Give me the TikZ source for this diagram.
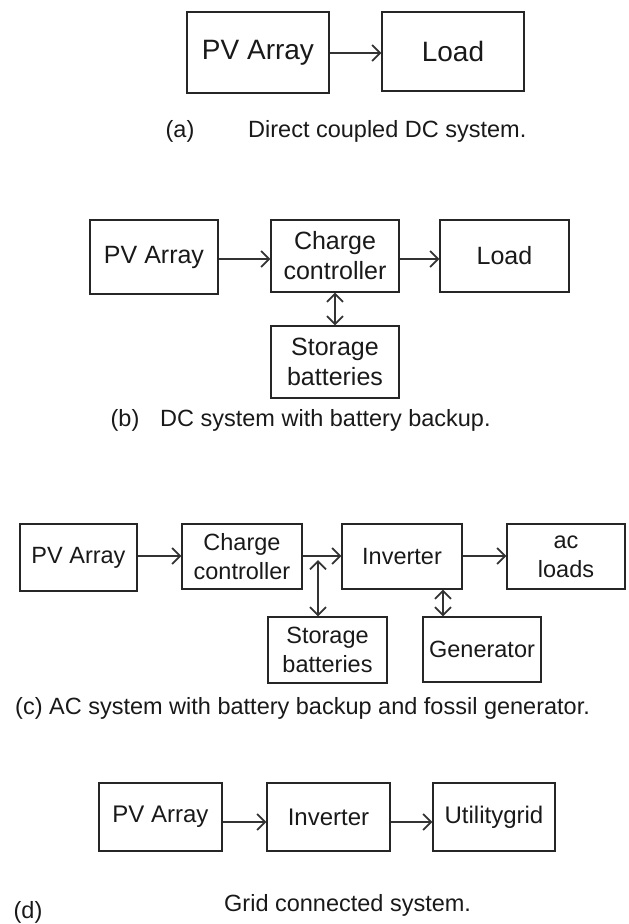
\documentclass[tikz,border=0pt]{standalone}
\usepackage{fontspec}
\setmainfont{Liberation Sans}
\usetikzlibrary{arrows.meta}
\tikzset{
  blk/.style={draw=black!85, line width=1.3pt, inner sep=0pt, align=center, text=black!90},
  fa/.style={font=\fontsize{28}{32}\selectfont},
  fb/.style={font=\fontsize{25}{30}\selectfont},
  fc/.style={font=\fontsize{23.5}{29}\selectfont},
  fd/.style={font=\fontsize{24}{29}\selectfont},
  capt/.style={inner sep=0pt, text=black!90, font=\fontsize{23.5}{28}\selectfont},
  tipk/.tip={Straight Barb[length=8pt,width=16pt,line width=1.8pt]},
  arr/.style={draw=black!80, line width=1.1pt, -tipk},
  darr/.style={draw=black!80, line width=1.3pt, tipk-tipk}
}
\begin{document}
\begin{tikzpicture}[x=1pt,y=-1pt]
\useasboundingbox (0,0) rectangle (629,924);
% (a)
\node[blk,fa,minimum width=142pt,minimum height=81pt] (pa) at (258,52.5) {PV Array};
\node[blk,fa,minimum width=142pt,minimum height=79pt] (la) at (453,51.5) {Load};
\draw[arr] (pa.east |- 0,53) coordinate (a1) -- (a1 -| la.west);
\node[capt] (cap1) at (180,131) {(a)};
\node[capt,anchor=west] (capa) at (248,131) {Direct coupled DC system.};
% (b)
\node[blk,fb,minimum width=128pt,minimum height=74pt] (pb) at (154,257) {PV Array};
\node[blk,fb,minimum width=128pt,minimum height=72pt] (cb) at (335,256) {Charge\\controller};
\node[blk,fb,minimum width=129pt,minimum height=72pt] (lb) at (504.5,256) {Load};
\node[blk,fb,minimum width=128pt,minimum height=72pt] (sb) at (335,362) {Storage\\batteries};
\draw[arr] (pb.east |- 0,259) coordinate (b1) -- (b1 -| cb.west);
\draw[arr] (cb.east |- 0,259) coordinate (b2) -- (b2 -| lb.west);
\draw[darr] (cb.south) -- (sb.north);
\node[capt] (cap2) at (125,420) {(b)};
\node[capt,anchor=west] (capb) at (160,420) {DC system with battery backup.};
% (c)
\node[blk,fc,minimum width=117pt,minimum height=67pt] (pc) at (78.5,557.5) {PV Array};
\node[blk,fc,minimum width=120pt,minimum height=65pt] (cc) at (242,556.5) {Charge\\controller};
\node[blk,fc,minimum width=120pt,minimum height=65pt] (ic) at (402,556.5) {Inverter};
\node[blk,fc,minimum width=118pt,minimum height=65pt] (ac) at (566,556.5) {ac\\loads};
\node[blk,fc,minimum width=119pt,minimum height=66pt] (sc) at (327.5,650) {Storage\\batteries};
\node[blk,fc,minimum width=118pt,minimum height=65pt] (gc) at (482,649.5) {Generator};
\draw[arr] (pc.east |- 0,556) coordinate (c1) -- (c1 -| cc.west);
\draw[arr] (cc.east |- 0,556) coordinate (c2) -- (c2 -| ic.west);
\draw[arr] (ic.east |- 0,556) coordinate (c3) -- (c3 -| ac.west);
\coordinate (cj) at (318,560);
\draw[darr] (cj) -- (cj |- sc.north);
\coordinate (gj) at (443,0);
\draw[darr] (gj |- ic.south) -- (gj |- gc.north);
\node[capt,anchor=west] (capc) at (15,708) {(c) AC system with battery backup and fossil generator.};
% (d)
\node[blk,fd,minimum width=123pt,minimum height=68pt] (pd) at (160.5,817) {PV Array};
\node[blk,fd,minimum width=123pt,minimum height=68pt] (id) at (328.5,817) {Inverter};
\node[blk,fd,minimum width=122pt,minimum height=68pt] (ud) at (494,817) {Utilitygrid};
\draw[arr] (pd.east |- 0,822) coordinate (d1) -- (d1 -| id.west);
\draw[arr] (id.east |- 0,822) coordinate (d2) -- (d2 -| ud.west);
\node[capt] (cap4) at (28,912) {(d)};
\node[capt,anchor=west] (capd) at (224,905) {Grid connected system.};
\end{tikzpicture}
\end{document}
